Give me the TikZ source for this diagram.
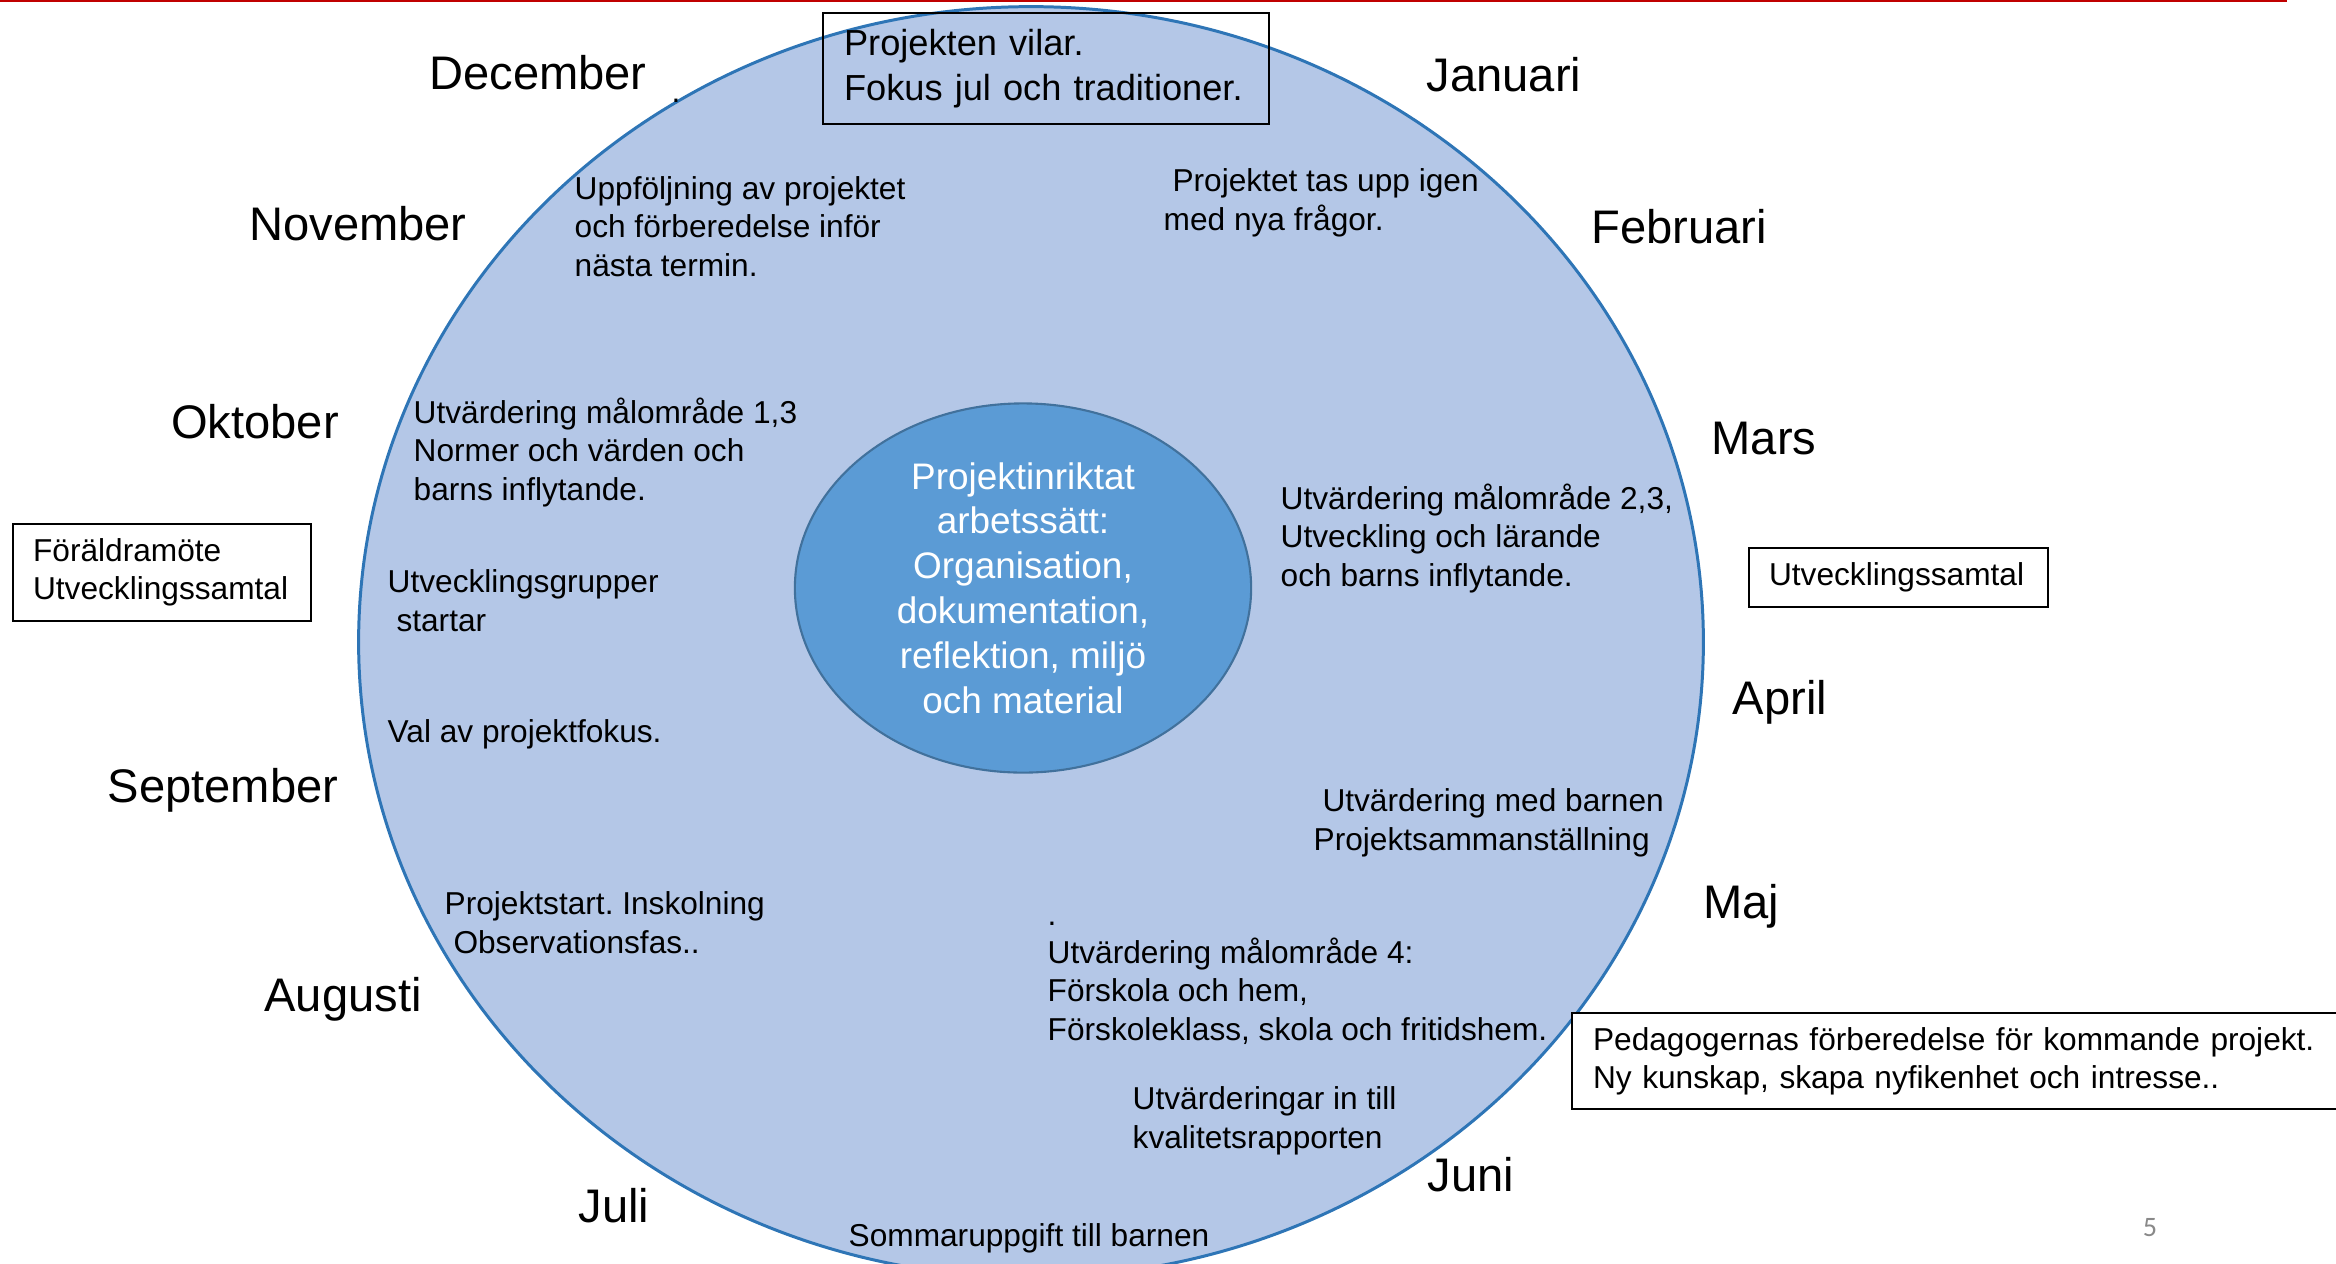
\documentclass[tikz,border=0pt]{standalone}
\usepackage{fontspec}
\setmainfont{Liberation Sans}
\newfontfamily\sidfont{Carlito}
\usetikzlibrary{shapes.geometric}
\frenchspacing
\definecolor{ringfyll}{HTML}{B4C7E7}
\definecolor{ringkant}{HTML}{2E75B6}
\definecolor{navfyll}{HTML}{5B9BD5}
\definecolor{navkant}{HTML}{41719C}
\definecolor{rodlinje}{HTML}{C00000}
\definecolor{sidgra}{HTML}{898989}
\tikzset{
  manad/.style={anchor=base, inner sep=0pt, font=\fontsize{13.4}{16}\selectfont},
  notis/.style={anchor=base west, inner sep=0pt, align=left, font=\fontsize{9}{10.9}\selectfont},
  ruta/.style={draw=black, line width=0.6pt, anchor=north west, inner ysep=0pt, align=left,
    font=\fontsize{9}{10.9}\selectfont}
}

\begin{document}
\begin{tikzpicture}[x=0.01cm,y=-0.01cm]
\useasboundingbox (0,0) rectangle (2336,1263);
%Röd linje överst
\draw[rodlinje, line width=0.8pt] (0,1) -- (2287,1);
%Årshjulet
\node[ellipse, draw=ringkant, fill=ringfyll, line width=0.85pt, inner sep=0pt,
  minimum width=13.44cm, minimum height=12.7cm] (ring) at (1031,642) {};
\node[ellipse, draw=navkant, fill=navfyll, line width=0.6pt, inner sep=0pt,
  minimum width=4.56cm, minimum height=3.69cm, text=white, align=center,
  font=\fontsize{10.5}{12.75}\selectfont] (nav) at (1023,588)
  {Projektinriktat\\arbetssätt:\\Organisation,\\dokumentation,\\reflektion, miljö\\och material};
%Månader
\node[manad] (dec) at (538,89) {December};
\node[manad] (jan) at (1504,91) {Januari};
\node[manad] (nov) at (358,240) {November};
\node[manad] (feb) at (1679,243) {Februari};
\node[manad] (okt) at (255,438) {Oktober};
\node[manad] (mar) at (1764,454) {Mars};
\node[manad] (apr) at (1780,714) {April};
\node[manad] (sep) at (223,802) {September};
\node[manad] (maj) at (1741,918) {Maj};
\node[manad] (aug) at (343,1011) {Augusti};
\node[manad] (jun) at (1471,1191) {Juni};
\node[manad] (jul) at (614,1222) {Juli};
\node[notis] (punkt) at (671,102) {.};
%Aktiviteter i ringen (base = sista radens baslinje)
\node[notis] (uppf) at (574,276) {Uppföljning av projektet\\och förberedelse inför\\nästa termin.};
\node[notis] (igen) at (1163,230) {\hspace*{.278em}Projektet tas upp igen\\med nya frågor.};
\node[notis] (mal13) at (413,500) {Utvärdering målområde 1,3\\Normer och värden och\\barns inflytande.};
\node[notis] (grupp) at (387,631) {Utvecklingsgrupper\\\hspace*{.278em}startar};
\node[notis] (val) at (387,742) {Val av projektfokus.};
\node[notis] (mal23) at (1280,586) {Utvärdering målområde 2,3,\\Utveckling och lärande\\och barns inflytande.};
\node[notis] (barnen) at (1313,850) {\hspace*{.278em}Utvärdering med barnen\\Projektsammanställning};
\node[notis] (start) at (444,953) {Projektstart. Inskolning\\\hspace*{.278em}Observationsfas..};
\node[notis] (mal4) at (1047,1040) {.\\Utvärdering målområde 4:\\Förskola och hem,\\Förskoleklass, skola och fritidshem.};
\node[notis] (kval) at (1132,1148) {Utvärderingar in till\\kvalitetsrapporten};
\node[notis] (sommar) at (848,1246) {Sommaruppgift till barnen};
%Rutor
\node[ruta, inner xsep=0.21cm, text width=4.04cm, minimum height=1.11cm,
  font=\fontsize{10.3}{12.8}\selectfont] (vilar) at (822,12) {Projekten vilar.\\Fokus jul och traditioner.};
\node[ruta, inner xsep=0.2cm, text width=2.58cm, minimum height=0.97cm] (foraldra) at (12,523)
  {Föräldramöte\\Utvecklingssamtal};
\node[ruta, inner xsep=0.2cm, text width=2.59cm, minimum height=0.59cm] (samtal) at (1748,547)
  {Utvecklingssamtal};
\node[ruta, fill=white, inner xsep=0.21cm, text width=7.87cm, minimum height=0.96cm] (pedagog) at (1571,1012)
  {Pedagogernas förberedelse för kommande projekt.\\Ny kunskap, skapa nyfikenhet och intresse..};
%Sidnummer
\node[anchor=base, inner sep=0pt, text=sidgra, font=\sidfont\fontsize{8}{9.6}\selectfont] (sida) at (2150,1236) {5};
\end{tikzpicture}
\end{document}
